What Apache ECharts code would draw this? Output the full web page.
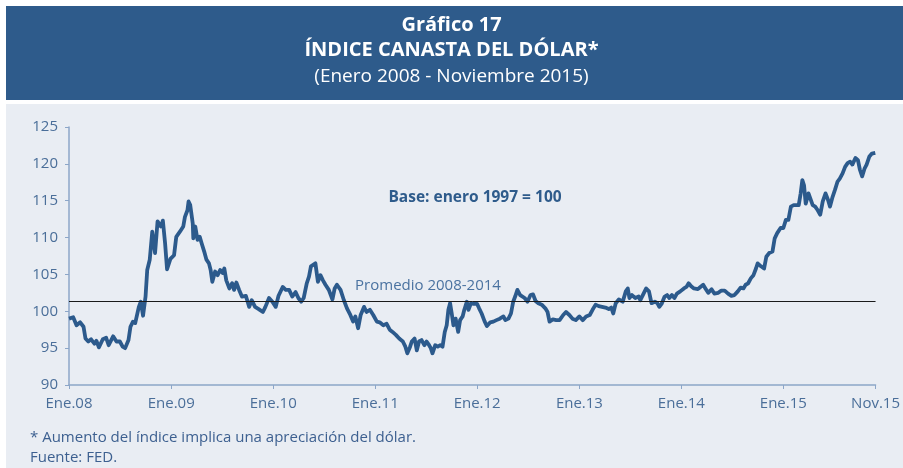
<!DOCTYPE html>
<html>
<head>
<meta charset="utf-8">
<script src="https://cdn.jsdelivr.net/npm/echarts@6/dist/echarts.min.js"></script>
<style>
html,body{margin:0;padding:0;background:#ffffff;}
#chart{width:903px;height:468px;}
</style>
</head>
<body>
<div id="chart"></div>
<script>
// ---- Data ----
const dates = [
'2008-01-01','2008-01-16','2008-01-28','2008-02-10','2008-02-22','2008-02-29','2008-03-10','2008-03-20','2008-04-01','2008-04-08','2008-04-17','2008-05-01','2008-05-13','2008-05-22','2008-06-07','2008-06-19','2008-07-01','2008-07-11','2008-07-20','2008-08-01','2008-08-08','2008-08-17','2008-08-25','2008-09-07','2008-09-14','2008-09-22','2008-10-01','2008-10-07','2008-10-16','2008-10-25','2008-11-04','2008-11-13','2008-11-25','2008-12-02','2008-12-10','2008-12-17','2008-12-29',
'2009-01-11','2009-01-19','2009-02-01','2009-02-13','2009-02-19','2009-02-28','2009-03-04','2009-03-10','2009-03-19','2009-03-21','2009-03-28','2009-04-05','2009-04-13','2009-04-20','2009-04-29','2009-05-07','2009-05-16','2009-05-22','2009-05-28','2009-06-07','2009-06-16','2009-06-25','2009-07-04','2009-07-10','2009-07-17','2009-07-28','2009-08-07','2009-08-14','2009-08-22','2009-09-01','2009-09-11','2009-09-25','2009-10-07','2009-10-16','2009-10-28','2009-11-10','2009-11-25','2009-12-04','2009-12-17','2009-12-29',
'2010-01-10','2010-01-20','2010-02-04','2010-02-15','2010-02-27','2010-03-10','2010-03-22','2010-04-01','2010-04-11','2010-04-20','2010-05-01','2010-05-09','2010-05-16','2010-05-24','2010-06-01','2010-06-10','2010-06-19','2010-06-28','2010-07-07','2010-07-19','2010-08-01','2010-08-09','2010-08-17','2010-08-30','2010-09-11','2010-09-22','2010-10-04','2010-10-14','2010-10-22','2010-11-01','2010-11-10','2010-11-22','2010-12-01','2010-12-13','2010-12-25',
'2011-01-07','2011-01-17','2011-01-30','2011-02-11','2011-02-22','2011-03-04','2011-03-16','2011-03-28','2011-04-10','2011-04-19','2011-04-26','2011-05-06','2011-05-12','2011-05-22','2011-05-30','2011-06-07','2011-06-16','2011-06-26','2011-07-04','2011-07-13','2011-07-19','2011-07-25','2011-08-04','2011-08-13','2011-08-22','2011-08-30','2011-09-07','2011-09-14','2011-09-20','2011-09-26','2011-10-02','2011-10-08','2011-10-16','2011-10-25','2011-11-01','2011-11-10','2011-11-16','2011-11-25','2011-12-01','2011-12-10','2011-12-19',
'2012-01-01','2012-01-08','2012-01-17','2012-01-28','2012-02-05','2012-02-17','2012-02-28','2012-03-10','2012-03-22','2012-04-04','2012-04-11','2012-04-22','2012-05-01','2012-05-09','2012-05-16','2012-05-24','2012-06-03','2012-06-10','2012-06-19','2012-06-29','2012-07-10','2012-07-19','2012-07-28','2012-08-07','2012-08-19','2012-09-01','2012-09-09','2012-09-16','2012-09-28','2012-10-10','2012-10-22','2012-11-04','2012-11-14','2012-11-26','2012-12-07','2012-12-19',
'2013-01-01','2013-01-13','2013-01-25','2013-02-07','2013-02-17','2013-02-28','2013-03-11','2013-03-23','2013-04-04','2013-04-16','2013-04-25','2013-05-02','2013-05-11','2013-05-22','2013-05-29','2013-06-05','2013-06-16','2013-06-23','2013-06-29','2013-07-08','2013-07-20','2013-08-01','2013-08-07','2013-08-16','2013-08-28','2013-09-07','2013-09-16','2013-09-28','2013-10-07','2013-10-14','2013-10-22','2013-11-02','2013-11-11','2013-11-19','2013-11-28','2013-12-07','2013-12-16','2013-12-28',
'2014-01-10','2014-01-19','2014-01-27','2014-02-05','2014-02-15','2014-02-22','2014-03-01','2014-03-10','2014-03-20','2014-03-28','2014-04-07','2014-04-19','2014-04-29','2014-05-13','2014-05-23','2014-06-05','2014-06-17','2014-06-29','2014-07-10','2014-07-22','2014-08-01','2014-08-11','2014-08-19','2014-08-28','2014-09-07','2014-09-16','2014-09-25','2014-10-01','2014-10-13','2014-10-24','2014-11-01','2014-11-11','2014-11-23','2014-12-01','2014-12-10','2014-12-22',
'2015-01-01','2015-01-10','2015-01-19','2015-01-28','2015-02-07','2015-02-16','2015-02-25','2015-03-04','2015-03-10','2015-03-16','2015-03-22','2015-04-01','2015-04-07','2015-04-16','2015-04-25','2015-05-04','2015-05-13','2015-05-22','2015-06-01','2015-06-10','2015-06-17','2015-06-26','2015-07-05','2015-07-14','2015-07-22','2015-08-01','2015-08-10','2015-08-19','2015-08-28','2015-09-05','2015-09-16','2015-09-25','2015-10-02','2015-10-10','2015-10-19','2015-10-26','2015-11-05','2015-11-14','2015-11-26'
];
const values = [
99.0,99.2,98.1,98.5,97.9,96.3,95.9,96.2,95.6,96.0,95.1,96.2,96.4,95.4,96.6,95.9,95.9,95.2,95.0,96.1,97.9,98.6,98.4,100.6,101.3,99.4,102.0,105.6,107.0,110.8,107.9,112.2,111.5,112.3,109.2,105.7,107.1,
107.6,110.1,110.8,111.5,112.8,113.7,114.9,114.4,111.9,109.9,111.5,109.7,110.1,109.2,108.1,107.0,106.5,105.6,104.0,105.4,104.9,105.6,105.2,105.8,104.2,103.1,103.8,102.9,103.9,102.9,102.0,102.1,100.6,101.5,100.6,100.3,99.9,100.6,101.8,101.3,
100.6,102.1,103.3,102.9,102.9,102.0,102.6,101.8,101.3,101.8,103.8,104.7,106.1,106.3,106.5,104.0,104.9,104.2,103.6,102.9,101.6,103.1,103.6,102.9,101.5,100.4,99.5,98.6,99.3,97.7,99.5,100.6,99.9,100.2,99.5,
98.6,98.5,98.1,98.3,97.5,97.2,96.8,96.3,95.9,95.2,94.3,95.2,95.9,96.3,94.7,95.9,96.1,95.4,95.9,95.4,95.0,94.3,95.4,95.2,95.4,95.2,97.2,98.1,100.2,101.1,99.7,98.1,99.0,97.2,98.8,99.3,100.2,101.3,100.2,101.1,101.0,
101.0,100.4,99.7,98.6,98.0,98.5,98.6,98.8,99.0,99.3,98.8,99.0,99.7,101.3,102.0,102.9,102.2,102.4,101.8,101.3,102.2,102.3,101.4,101.1,100.9,100.4,99.9,98.6,98.9,98.8,98.8,99.5,99.9,99.5,99.0,98.8,
99.3,98.8,99.3,99.5,100.2,100.9,100.7,100.6,100.5,100.3,100.5,99.7,101.1,101.6,101.8,101.3,102.7,103.1,101.8,102.2,101.8,102.0,101.5,102.2,103.1,102.7,101.1,101.3,101.1,100.6,101.0,102.0,102.2,101.8,102.2,101.8,102.4,102.7,
103.1,103.3,103.8,103.4,103.1,103.3,103.0,103.3,103.6,103.1,102.5,103.0,102.4,102.5,102.8,102.8,102.4,102.1,102.2,102.7,103.2,103.1,103.6,103.8,104.5,104.9,105.8,106.5,106.1,105.8,107.4,107.9,108.1,109.9,110.6,111.3,
111.3,112.4,112.4,114.2,114.4,114.4,114.4,116.0,117.8,117.1,114.6,116.0,116.2,114.4,114.2,113.7,113.1,114.9,116.0,115.1,114.2,115.5,116.5,117.6,118.0,118.7,119.6,120.1,120.3,119.9,120.8,120.5,119.2,118.3,119.4,119.9,121.0,121.4,121.5
];
const average20082014 = 101.4;
const tickDates = ['2008-01-01','2009-01-01','2010-01-01','2011-01-01','2012-01-01','2013-01-01','2014-01-01','2015-01-01','2015-11-27'];
const tickLabels = ['Ene.08','Ene.09','Ene.10','Ene.11','Ene.12','Ene.13','Ene.14','Ene.15','Nov.15'];

// ---- Build ----
const ts = s => new Date(s + 'T00:00:00Z').getTime();
const seriesData = dates.map((d, i) => [ts(d), values[i]]);
const tickTs = tickDates.map(ts);

const FONT = "'Open Sans', 'Noto Sans', sans-serif";
const BLUE = '#2e5b8b';
const AXIS = '#8ca6c8';
const LABEL = '#4a6e99';

const chart = echarts.init(document.getElementById('chart'), null, {renderer: 'canvas'});
chart.setOption({
  backgroundColor: '#ffffff',
  animation: false,
  textStyle: {fontFamily: FONT},
  graphic: [
    {type: 'rect', z: -10, shape: {x: 6, y: 6, width: 897, height: 94}, style: {fill: BLUE}},
    {type: 'rect', z: -10, shape: {x: 6, y: 104, width: 897, height: 364}, style: {fill: '#e9edf3'}},
    {type: 'text', left: 'center', top: 15, style: {text: 'Gráfico 17', fill: '#ffffff', font: "bold 20px " + FONT}},
    {type: 'text', left: 'center', top: 40, style: {text: 'ÍNDICE CANASTA DEL DÓLAR*', fill: '#ffffff', font: "bold 20px " + FONT}},
    {type: 'text', left: 'center', top: 67, style: {text: '(Enero 2008 - Noviembre 2015)', fill: '#ffffff', font: "19px " + FONT}},
    {type: 'text', x: 475, y: 198, style: {text: 'Base: enero 1997 = 100', fill: BLUE, font: "bold 15.5px " + FONT, align: 'center', verticalAlign: 'middle'}},
    {type: 'text', x: 428, y: 286, style: {text: 'Promedio 2008-2014', fill: '#4a72a0', font: "15px " + FONT, align: 'center', verticalAlign: 'middle'}},
    {type: 'text', x: 30, y: 438, style: {text: '* Aumento del índice implica una apreciación del dólar.', fill: '#3d6090', font: "15px " + FONT, verticalAlign: 'middle'}},
    {type: 'text', x: 30, y: 458, style: {text: 'Fuente: FED.', fill: '#3d6090', font: "15px " + FONT, verticalAlign: 'middle'}}
  ],
  grid: {left: 69, right: 25, top: 127, bottom: 83, containLabel: false},
  xAxis: {
    type: 'value',
    min: tickTs[0],
    max: tickTs[tickTs.length - 1],
    splitLine: {show: false},
    axisLine: {show: true, lineStyle: {color: AXIS, width: 1.5}},
    axisTick: {show: true, customValues: tickTs, length: 4, lineStyle: {color: AXIS}},
    axisLabel: {
      customValues: tickTs,
      margin: 11,
      color: LABEL,
      fontSize: 15,
      fontFamily: FONT,
      formatter: v => { const i = tickTs.indexOf(v); return i >= 0 ? tickLabels[i] : ''; }
    }
  },
  yAxis: {
    type: 'value',
    min: 90, max: 125, interval: 5,
    splitLine: {show: false},
    axisLine: {show: true, lineStyle: {color: AXIS, width: 1.5}},
    axisTick: {show: true, length: 4, lineStyle: {color: AXIS}},
    axisLabel: {margin: 11, color: LABEL, fontSize: 15, fontFamily: FONT}
  },
  series: [{
    type: 'line',
    data: seriesData,
    showSymbol: false,
    symbol: 'none',
    lineStyle: {color: '#2c5a8c', width: 3.8, join: 'round'},
    z: 3,
    markLine: {
      silent: true,
      symbol: ['none', 'none'],
      label: {show: false},
      lineStyle: {color: '#1a1a1a', width: 1, type: 'solid'},
      data: [{yAxis: average20082014}],
      z: 4
    }
  }]
});
</script>
</body>
</html>
